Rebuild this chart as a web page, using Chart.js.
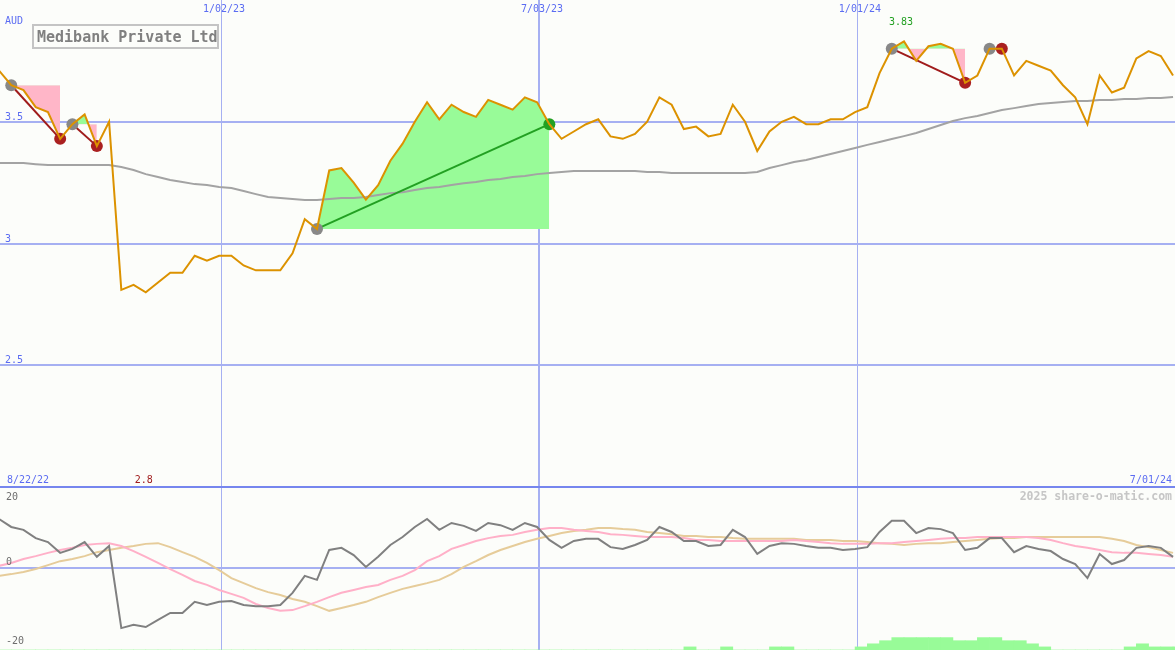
<!DOCTYPE html>
<html>
<head>
    <title>Medibank Private Ltd</title>
    <script src="https://cdn.jsdelivr.net/npm/chart.js"></script>
    <style>
        body {
            margin: 0;
            background: #fcfdfa;
        }
        .chart-container {
            position: relative;
            width: 1175px;
            height: 650px;
        }
    </style>
</head>
<body>
    <div class="chart-container">
        <canvas id="priceChart"></canvas>
    </div>

    <script>
        // weekly closing price (AUD), week 0 = first week shown
        const price = [
            3.71, 3.65, 3.63, 3.56, 3.54, 3.43, 3.49, 3.53, 3.40, 3.50,
            2.81, 2.83, 2.80, 2.84, 2.88, 2.88, 2.95, 2.93, 2.95, 2.95,
            2.91, 2.89, 2.89, 2.89, 2.96, 3.10, 3.06, 3.30, 3.31, 3.25,
            3.18, 3.24, 3.34, 3.41, 3.50, 3.58, 3.51, 3.57, 3.54, 3.52,
            3.59, 3.57, 3.55, 3.60, 3.58, 3.49, 3.43, 3.46, 3.49, 3.51,
            3.44, 3.43, 3.45, 3.50, 3.60, 3.57, 3.47, 3.48, 3.44, 3.45,
            3.57, 3.50, 3.38, 3.46, 3.50, 3.52, 3.49, 3.49, 3.51, 3.51,
            3.54, 3.56, 3.70, 3.80, 3.83, 3.75, 3.81, 3.82, 3.80, 3.66,
            3.69, 3.80, 3.80, 3.69, 3.75, 3.73, 3.71, 3.65, 3.60, 3.49,
            3.69, 3.62, 3.64, 3.76, 3.79, 3.77, 3.69
        ];

        // long moving average (grey line)
        const priceAvg = [
            3.331, 3.331, 3.331, 3.326, 3.322, 3.322, 3.322, 3.322, 3.322, 3.322,
            3.314, 3.302, 3.285, 3.273, 3.261, 3.253, 3.244, 3.240, 3.232, 3.228,
            3.216, 3.203, 3.191, 3.187, 3.183, 3.179, 3.179, 3.183, 3.187, 3.187,
            3.191, 3.199, 3.207, 3.211, 3.220, 3.228, 3.232, 3.240, 3.248, 3.253,
            3.261, 3.265, 3.273, 3.277, 3.285, 3.290, 3.294, 3.298, 3.298, 3.298,
            3.298, 3.298, 3.298, 3.294, 3.294, 3.290, 3.290, 3.290, 3.290, 3.290,
            3.290, 3.290, 3.294, 3.310, 3.322, 3.335, 3.343, 3.355, 3.368, 3.380,
            3.392, 3.405, 3.417, 3.429, 3.441, 3.454, 3.470, 3.487, 3.503, 3.515,
            3.524, 3.536, 3.548, 3.556, 3.565, 3.573, 3.577, 3.581, 3.585, 3.585,
            3.589, 3.589, 3.593, 3.593, 3.598, 3.598, 3.602
        ];

        // lower panel: momentum (dark grey) and its two averages
        const momentum = [
            13.6, 11.4, 10.6, 8.3, 7.2, 4.2, 5.3, 7.2, 3.1, 6.1,
            -16.7, -15.8, -16.4, -14.4, -12.5, -12.5, -9.4, -10.3, -9.4, -9.2,
            -10.3, -10.6, -10.6, -10.3, -6.9, -2.2, -3.3, 5.0, 5.6, 3.6,
            0.3, 3.1, 6.4, 8.6, 11.4, 13.6, 10.6, 12.5, 11.7, 10.3,
            12.5, 11.9, 10.6, 12.5, 11.4, 7.8, 5.6, 7.5, 8.1, 8.1,
            5.8, 5.3, 6.4, 7.8, 11.4, 10.0, 7.5, 7.5, 6.1, 6.4,
            10.6, 8.6, 3.9, 6.1, 6.9, 6.7, 6.1, 5.6, 5.6, 5.0,
            5.3, 5.8, 10.0, 13.1, 13.1, 9.7, 11.1, 10.8, 9.7, 5.0,
            5.6, 8.3, 8.3, 4.4, 6.1, 5.3, 4.7, 2.5, 1.1, -2.8,
            3.9, 1.1, 2.2, 5.6, 6.1, 5.6, 3.1
        ];
        const momentumFast = [
            0.6, 1.4, 2.5, 3.3, 4.2, 5.0, 5.6, 6.4, 6.7, 6.9,
            6.1, 4.7, 3.1, 1.4, -0.3, -1.9, -3.6, -4.7, -6.1, -7.2,
            -8.3, -10.0, -11.1, -11.9, -11.7, -10.6, -9.4, -8.1, -6.9, -6.1,
            -5.3, -4.7, -3.3, -2.2, -0.6, 1.9, 3.3, 5.3, 6.4, 7.5,
            8.3, 8.9, 9.2, 10.0, 10.6, 11.1, 11.1, 10.6, 10.3, 10.0,
            9.4, 9.2, 8.9, 8.6, 8.6, 8.6, 8.3, 7.8, 7.8, 7.5,
            7.5, 7.5, 7.5, 7.5, 7.5, 7.8, 7.5, 7.2, 6.9, 6.7,
            6.7, 6.7, 6.9, 6.9, 7.2, 7.5, 7.8, 8.1, 8.3, 8.3,
            8.6, 8.6, 8.6, 8.6, 8.6, 8.3, 7.8, 6.9, 6.1, 5.6,
            5.0, 4.4, 4.2, 4.2, 3.9, 3.6, 3.1
        ];
        const momentumSlow = [
            -2.2, -1.7, -1.1, -0.3, 0.8, 1.9, 2.5, 3.3, 4.4, 5.0,
            5.6, 6.1, 6.7, 6.9, 5.8, 4.4, 3.1, 1.4, -0.6, -2.8,
            -4.2, -5.6, -6.7, -7.5, -8.6, -9.4, -10.6, -11.9, -11.1, -10.3,
            -9.4, -8.1, -6.9, -5.8, -5.0, -4.2, -3.3, -1.7, 0.3, 1.9,
            3.6, 5.0, 6.1, 7.2, 8.1, 8.9, 9.7, 10.3, 10.6, 11.1,
            11.1, 10.8, 10.6, 10.0, 9.7, 9.4, 8.9, 8.9, 8.6, 8.6,
            8.3, 8.1, 8.1, 8.1, 8.1, 8.1, 7.8, 7.8, 7.8, 7.5,
            7.5, 7.2, 6.9, 6.7, 6.4, 6.7, 6.9, 6.9, 7.2, 7.5,
            7.8, 8.1, 8.3, 8.3, 8.6, 8.6, 8.6, 8.6, 8.6, 8.6,
            8.6, 8.1, 7.5, 6.4, 5.8, 5.0, 4.2
        ];

        // small green histogram along the bottom edge
        const trendBars = [
            0, 0, 0, 0, 0, 0, 0, 0, 0, 0,
            0, 0, 0, 0, 0, 0, 0, 0, 0, 0,
            0, 0, 0, 0, 0, 0, 0, 0, 0, 0,
            0, 0, 0, 0, 0, 0, 0, 0, 0, 0,
            0, 0, 0, 0, 0, 0, 0, 0, 0, 0,
            0, 0, 0, 0, 0, 0, 1, 0, 0, 1,
            0, 0, 0, 1, 1, 0, 0, 0, 0, 0,
            1, 2, 3, 4, 4, 4, 4, 4, 3, 3,
            4, 4, 3, 3, 2, 1, 0, 0, 0, 0,
            0, 0, 1, 2, 1, 1, 1
        ];

        // trades: entry week and exit week
        const tradeEntry = [1, 6, 26, 73, 81];
        const tradeExit = [5, 8, 45, 79, 82];

        // date grid
        const gridWeeks = [18.15, 44.15, 70.15];
        const dateLabels = ['1/02/23', '7/03/23', '1/01/24'];
        const startLabel = '8/22/22';
        const endLabel = '7/01/24';
        const priceTicks = [3.5, 3, 2.5];
        const momentumTicks = [20, 0, -20];

        const BLUE = '#5b6cf2';
        const GRID = '#a6b0f2';
        const FONT = '"DejaVu Sans Mono", monospace';

        function toPoints(values, shift) {
            return values.map((v, i) => ({ x: i + (shift || 0), y: v }));
        }

        const datasets = [];

        // price line on top
        datasets.push({
            data: toPoints(price),
            borderColor: '#dc9200',
            borderWidth: 2,
            pointRadius: 0,
            yAxisID: 'y',
            order: 1
        });

        // moving average
        datasets.push({
            data: toPoints(priceAvg),
            borderColor: '#a3a3a3',
            borderWidth: 2,
            pointRadius: 0,
            yAxisID: 'y',
            order: 4
        });

        // trade shading + entry/exit line
        tradeEntry.forEach((start, k) => {
            const end = tradeExit[k];
            const base = price[start];
            const win = price[end] > base;
            const seg = [];
            for (let i = start; i <= end; i++) seg.push({ x: i, y: price[i] });

            datasets.push({
                data: seg,
                borderColor: 'transparent',
                borderWidth: 0,
                pointRadius: 0,
                fill: { target: { value: base }, above: '#98fb98', below: '#ffb6c8' },
                yAxisID: 'y',
                order: 6
            });
            datasets.push({
                data: [{ x: start, y: price[start] }, { x: end, y: price[end] }],
                borderColor: win ? '#22a022' : '#a01c1c',
                borderWidth: 2,
                pointRadius: 6,
                pointBorderWidth: 0,
                pointBackgroundColor: ['#888888', win ? '#22a022' : '#aa2020'],
                yAxisID: 'y',
                order: 3
            });
        });

        // lower panel lines
        datasets.push({
            data: toPoints(momentumSlow),
            borderColor: '#e6cc9a',
            borderWidth: 2,
            pointRadius: 0,
            yAxisID: 'y2',
            order: 3
        });
        datasets.push({
            data: toPoints(momentumFast),
            borderColor: '#ffb0c8',
            borderWidth: 2,
            pointRadius: 0,
            yAxisID: 'y2',
            order: 2
        });
        datasets.push({
            data: toPoints(momentum),
            borderColor: '#808080',
            borderWidth: 2,
            pointRadius: 0,
            yAxisID: 'y2',
            order: 1
        });

        // histogram, each bar covers the week that follows its point
        datasets.push({
            type: 'bar',
            data: toPoints(trendBars, 0.5),
            backgroundColor: '#98fb98',
            borderWidth: 0,
            barPercentage: 1,
            categoryPercentage: 1,
            yAxisID: 'y3',
            order: 7
        });

        // background, grid and all the text
        const decorPlugin = {
            id: 'decor',
            beforeDraw(chart) {
                const ctx = chart.ctx;
                ctx.save();
                ctx.fillStyle = '#fcfdfa';
                ctx.fillRect(0, 0, chart.width, chart.height);
                ctx.restore();
            },
            beforeDatasetsDraw(chart) {
                const ctx = chart.ctx;
                const { x, y, y2 } = chart.scales;
                const W = chart.width, H = chart.height;
                ctx.save();

                // vertical date lines
                gridWeeks.forEach((w, i) => {
                    const px = Math.round(x.getPixelForValue(w));
                    ctx.fillStyle = GRID;
                    const lw = i === 1 ? 2 : 1;
                    ctx.fillRect(px - (lw === 2 ? 1 : 0), 0, lw, H);
                });

                // price levels
                priceTicks.forEach(v => {
                    const py = Math.round(y.getPixelForValue(v));
                    ctx.fillStyle = GRID;
                    ctx.fillRect(0, py - 1, W, 2);
                });

                // panel separator
                const sep = Math.round(y.getPixelForValue(2));
                ctx.fillStyle = '#7686ee';
                ctx.fillRect(0, sep - 1, W, 2);

                // zero line of the lower panel
                const zy = Math.round(y2.getPixelForValue(0));
                ctx.fillStyle = GRID;
                ctx.fillRect(0, zy - 1, W, 2);

                ctx.restore();
            },
            afterDatasetsDraw(chart) {
                const ctx = chart.ctx;
                const { x, y, y2 } = chart.scales;
                const W = chart.width;
                ctx.save();
                ctx.textBaseline = 'alphabetic';

                // currency and price labels
                ctx.font = '10px ' + FONT;
                ctx.fillStyle = BLUE;
                ctx.textAlign = 'left';
                ctx.fillText('AUD', 5, 24);
                priceTicks.forEach(v => {
                    ctx.fillText(String(v), 5, y.getPixelForValue(v) - 2);
                });

                // dates across the top
                ctx.textAlign = 'center';
                dateLabels.forEach((d, i) => {
                    ctx.fillText(d, x.getPixelForValue(gridWeeks[i]) + 3, 12);
                });

                // first / last date above the separator
                const sep = y.getPixelForValue(2);
                ctx.textAlign = 'left';
                ctx.fillText(startLabel, 7, sep - 4);
                ctx.textAlign = 'right';
                ctx.fillText(endLabel, W - 3, sep - 4);

                // lowest and highest close
                const lo = Math.min(...price), hi = Math.max(...price);
                ctx.textAlign = 'center';
                ctx.fillStyle = '#a01c1c';
                ctx.fillText(String(lo), x.getPixelForValue(price.indexOf(lo)) - 2, sep - 4);
                ctx.fillStyle = '#22a022';
                ctx.fillText(String(hi), x.getPixelForValue(price.indexOf(hi)) - 3, 25);

                // lower panel labels
                ctx.fillStyle = '#6e6e6e';
                ctx.textAlign = 'left';
                momentumTicks.forEach(v => {
                    const py = y2.getPixelForValue(v);
                    const base = v === 0 ? py - 3 : py + 4;
                    ctx.fillText(String(v), 6, Math.min(base, 646));
                });

                // watermark
                ctx.font = 'bold 11.5px ' + FONT;
                ctx.fillStyle = '#c6c6c6';
                ctx.textAlign = 'right';
                ctx.fillText('2025 share-o-matic.com', W - 3, sep + 13);

                // title box
                ctx.fillStyle = '#fcfdfa';
                ctx.fillRect(33, 25, 185, 23);
                ctx.strokeStyle = '#c4c4c4';
                ctx.lineWidth = 2;
                ctx.strokeRect(33, 25, 185, 23);
                ctx.font = 'bold 15px ' + FONT;
                ctx.fillStyle = '#808080';
                ctx.textAlign = 'left';
                ctx.fillText('Medibank Private Ltd', 37, 42);

                ctx.restore();
            }
        };

        document.addEventListener('DOMContentLoaded', function() {
            const ctx = document.getElementById('priceChart').getContext('2d');
            new Chart(ctx, {
                type: 'line',
                data: { datasets: datasets },
                options: {
                    animation: false,
                    responsive: true,
                    maintainAspectRatio: false,
                    // no room for point radius: plot area is the whole canvas
                    layout: { padding: 0, autoPadding: false },
                    plugins: {
                        legend: { display: false },
                        tooltip: { enabled: false }
                    },
                    scales: {
                        x: {
                            type: 'linear',
                            display: false,
                            offset: false,
                            min: 0.08,
                            max: 96.16,
                            // one tick per week keeps the bar width at one week
                            afterBuildTicks: scale => {
                                scale.ticks = price.map((v, i) => ({ value: i }));
                            }
                        },
                        // price panel: 4.0 at top, 2.0 at the separator
                        y: { display: false, min: 1.331, max: 4.0 },
                        // lower panel: 0 near the bottom, +-20 band
                        y2: { display: false, min: -22.78, max: 157.78 },
                        y3: { display: false, min: 0, max: 209.7 }
                    }
                },
                plugins: [decorPlugin]
            });
        });
    </script>
</body>
</html>
